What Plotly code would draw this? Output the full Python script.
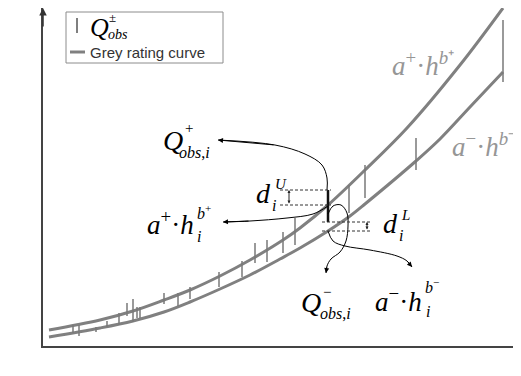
import plotly.graph_objects as go

# rating curves (h and Q in arbitrary units)
h_upper = [6, 57, 90, 121, 147, 177, 207, 240, 257, 285, 322, 364, 417, 460]
q_upper = [16, 26, 35, 46, 56, 70, 86, 106, 118, 141, 176, 218, 281, 338]
h_lower = [6, 57, 90, 121, 147, 177, 207, 237, 257, 285, 307, 322, 373, 397, 427, 460]
q_lower = [9, 18, 25, 34, 44, 57, 71, 87, 98, 115, 130, 142, 185, 207, 239, 274]

# observation intervals [Q-, Q+]
obs_h = [30, 36, 53, 64, 76, 84, 90, 94, 97, 121, 135, 147, 176, 199, 212, 224, 240, 252, 306, 322, 373, 460]
obs_lo = [13, 10, 14, 19, 21, 30, 24, 28, 28, 42, 40, 47, 59, 69, 83, 84, 93, 101, 133, 148, 176, 264]
obs_hi = [21, 21, 19, 25, 33, 43, 47, 39, 39, 53, 53, 59, 74, 85, 103, 106, 114, 128, 161, 181, 208, 326]

# the highlighted observation i
obs_i_h = 285
obs_i_lo = 124
obs_i_hi = 156
curve_i_up = 141
curve_i_low = 115

# pointer paths
ptr_qplus_h = [284, 284, 279, 262, 232, 175]
ptr_qplus_q = [156, 168, 181, 192, 201, 206]
ptr_aplus_h = [285, 270, 244, 207, 180]
ptr_aplus_q = [140, 132, 128, 125, 124]
ptr_qminus_h = [285, 290, 298, 304, 305, 303, 297, 288, 284, 283]
ptr_qminus_q = [132, 140, 141, 133, 120, 105, 94, 87, 80, 73]
ptr_aminus_h = [285, 290, 302, 327, 354, 364, 369]
ptr_aminus_q = [115, 105, 100, 96, 90, 85, 79]

GREY = "rgb(128,128,128)"
SERIF = "Liberation Serif, Times New Roman, serif"
SANS = "Liberation Sans, Arial, sans-serif"

fig = go.Figure()

fig.add_trace(go.Scatter(x=h_upper, y=q_upper, mode="lines",
                         line=dict(color=GREY, width=3, shape="spline"), hoverinfo="skip"))
fig.add_trace(go.Scatter(x=h_lower, y=q_lower, mode="lines",
                         line=dict(color=GREY, width=3, shape="spline"), hoverinfo="skip"))

obs_x, obs_y = [], []
for h, lo, hi in zip(obs_h, obs_lo, obs_hi):
    obs_x += [h, h, None]
    obs_y += [lo, hi, None]
fig.add_trace(go.Scatter(x=obs_x, y=obs_y, mode="lines",
                         line=dict(color="rgb(120,120,120)", width=1.5), hoverinfo="skip"))

fig.add_trace(go.Scatter(x=[obs_i_h, obs_i_h], y=[obs_i_lo, obs_i_hi], mode="lines",
                         line=dict(color="#111", width=2.5), hoverinfo="skip"))

# dashed guides for d_i^U and d_i^L
for q in (obs_i_hi, curve_i_up):
    fig.add_shape(type="line", x0=237, x1=288, y0=q, y1=q,
                  line=dict(color="#333", width=1, dash="3px,2px"))
for q in (obs_i_lo, curve_i_low):
    fig.add_shape(type="line", x0=279, x1=329, y0=q, y1=q,
                  line=dict(color="#333", width=1, dash="3px,2px"))

for x, q0, q1 in ((246, curve_i_up, obs_i_hi), (324, curve_i_low, obs_i_lo)):
    fig.add_annotation(x=x, y=q1, ax=x, ay=q0, axref="x", ayref="y", text="",
                       showarrow=True, arrowside="end+start", arrowhead=2,
                       arrowsize=0.6, arrowwidth=1, arrowcolor="#222", standoff=0, startstandoff=0)


def pointer(hs, qs):
    fig.add_trace(go.Scatter(x=hs, y=qs, mode="lines",
                             line=dict(color="black", width=1, shape="spline"), hoverinfo="skip"))
    fig.add_annotation(x=hs[-1], y=qs[-1], ax=hs[-2], ay=qs[-2], axref="x", ayref="y",
                       text="", showarrow=True, arrowhead=2, arrowsize=1,
                       arrowwidth=1, arrowcolor="black", standoff=0)


pointer(ptr_qplus_h, ptr_qplus_q)
pointer(ptr_aplus_h, ptr_aplus_q)
pointer(ptr_qminus_h, ptr_qminus_q)
pointer(ptr_aminus_h, ptr_aminus_q)


def note(x, y, text, size, color="black", family=SERIF, xanchor="left"):
    fig.add_annotation(x=x, y=y, text=text, showarrow=False, xanchor=xanchor,
                       yanchor="middle", font=dict(family=family, size=size, color=color))


# Q_obs,i^+
note(118, 206, "<i>Q</i>", 28)
note(140, 218, "+", 15)
note(134, 194, "<i>obs</i>,<i>i</i>", 16)
# a+ . h_i^b+
note(153, 123, "<i>a</i><sup>+</sup>·<i>h</i>", 27, xanchor="right")
note(152, 134, "<i>b</i><sup>+</sup>", 16)
note(152, 110, "<i>i</i>", 16)
# d_i^U
note(211, 153, "<i>d</i>", 28)
note(230, 162, "<i>U</i>", 15)
note(227, 141, "<i>i</i>", 16)
# d_i^L
note(338, 123, "<i>d</i>", 28)
note(356, 131, "<i>L</i>", 15)
note(354, 111, "<i>i</i>", 16)
# Q_obs,i^-
note(256, 44, "<i>Q</i>", 28)
note(278, 54, "−", 15)
note(275, 33, "<i>obs</i>,<i>i</i>", 16)
# a- . h_i^b-
note(381, 46, "<i>a</i><sup>−</sup>·<i>h</i>", 27, xanchor="right")
note(380, 60, "<i>b</i><sup>−</sup>", 16)
note(381, 35, "<i>i</i>", 16)

# curve labels
note(347, 282, "<i>a</i><sup>+</sup>·<i>h</i><sup><i>b</i>⁺</sup>", 27, color="rgb(150,150,150)")
note(407, 201, "<i>a</i><sup>−</sup>·<i>h</i><sup><i>b</i>⁻</sup>", 27, color="rgb(150,150,150)")

# axis names
note(-19, 315, "<i>Q</i>", 32, xanchor="center")
note(467, -20, "<i>h</i>", 30, xanchor="center")

# y axis arrow head
fig.add_annotation(x=0, y=338, ax=0, ay=318, axref="x", ayref="y", text="",
                   showarrow=True, arrowhead=2, arrowsize=1, arrowwidth=1.5,
                   arrowcolor="#333", standoff=0)

# legend box
fig.add_shape(type="rect", x0=23, x1=180, y0=283, y1=334,
              line=dict(color="rgb(140,140,140)", width=1), fillcolor="white")
fig.add_shape(type="line", x0=34, x1=34, y0=313, y1=328, line=dict(color="#555", width=1.5))
note(45, 319, "<i>Q</i>", 26)
note(64, 329, "±", 13)
note(63, 312, "<i>obs</i>", 14)
fig.add_shape(type="line", x0=27, x1=42, y0=294, y1=294, line=dict(color=GREY, width=3))
note(45, 294, "Grey rating curve", 15, color="#333", family=SANS)

# page body keeps an 8px margin, so the figure is sized to fit inside it
fig.update_layout(
    width=513, height=368,
    margin=dict(l=35, r=0, t=0, b=30),
    showlegend=False,
    plot_bgcolor="white", paper_bgcolor="white",
)
fig.update_xaxes(range=[0, 478], showgrid=False, zeroline=False, showticklabels=False,
                 ticks="", showline=True, linecolor="#444", linewidth=1.5)
fig.update_yaxes(range=[0, 338], showgrid=False, zeroline=False, showticklabels=False,
                 ticks="", showline=True, linecolor="#444", linewidth=1.5)

fig.write_html("out.html")
